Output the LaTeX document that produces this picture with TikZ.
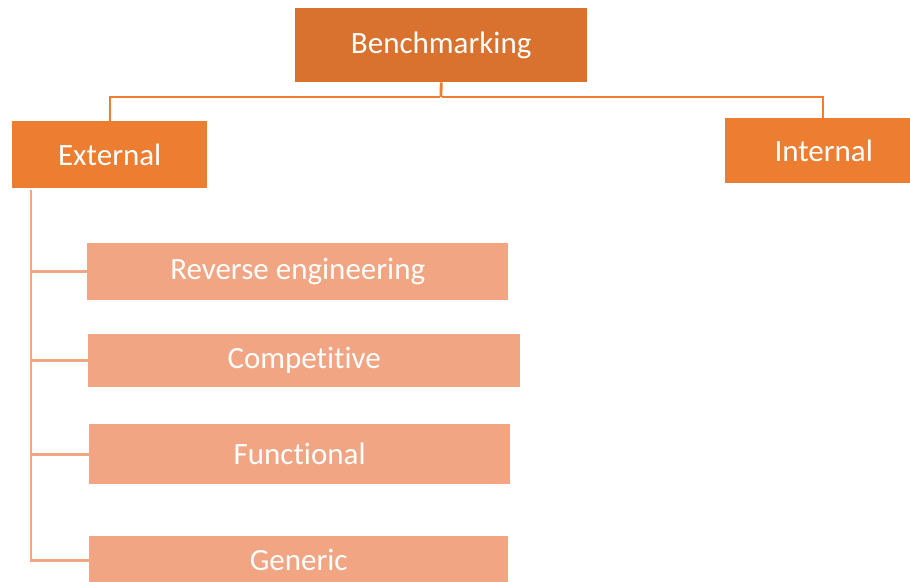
\documentclass[tikz,border=0pt]{standalone}
\usepackage{fontspec}
\setmainfont{Carlito}[Ligatures=NoCommon]
\definecolor{darkor}{HTML}{D9722E}
\definecolor{midor}{HTML}{ED7D31}
\definecolor{lightor}{HTML}{F1A582}
\begin{document}
\begin{tikzpicture}[x=1pt,y=-1pt,
  box/.style={anchor=north west, inner sep=0pt, text=white, font=\fontsize{31}{34}\selectfont},
  conn/.style={line width=2.8pt, draw=midor},
  lconn/.style={line width=2.8pt, draw=lightor}]
\useasboundingbox (0,0) rectangle (910,581);
% boxes
\node[box, fill=darkor, minimum width=292pt, minimum height=74pt] (bench) at (295,8) {Benchmarking};
\node[box, fill=midor, minimum width=195pt, minimum height=67pt] (ext) at (12,121) {External};
\node[box, fill=midor, minimum width=185pt, minimum height=65pt] (int) at (725,118) {\hspace*{12pt}Internal};
\node[box, fill=lightor, minimum width=421pt, minimum height=57pt] (rev) at (87,243) {Reverse engineering};
\node[box, fill=lightor, minimum width=432pt, minimum height=53pt] (comp) at (88,334) {Competitive};
\node[box, fill=lightor, minimum width=421pt, minimum height=60pt] (func) at (89,424) {Functional};
\node[box, fill=lightor, minimum width=419pt, minimum height=48pt] (gen) at (89,536) {\raisebox{-2pt}{Generic}};
% connectors
\coordinate (j) at (441,97);
\draw[conn] (bench.south) -- (j);
\draw[conn] ([xshift=-1.4pt]j) -- (110,97) -- (ext.north -| 110,0);
\draw[conn] ([xshift=1.4pt]j) -| (int.north -| 823,0);
\coordinate (trunk) at (31,190);
\draw[lconn] (trunk) |- (gen.west);
\draw[lconn] (trunk |- rev.west) -- (rev.west);
\draw[lconn] (trunk |- comp.west) -- (comp.west);
\draw[lconn] (trunk |- func.west) -- (func.west);
\end{tikzpicture}
\end{document}
